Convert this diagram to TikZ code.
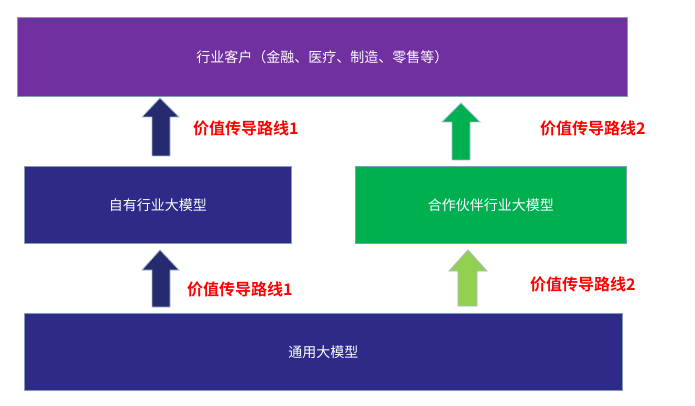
\documentclass[tikz,border=0pt]{standalone}
\usepackage{fontspec}
\setmainfont{Noto Sans CJK SC}
\newfontfamily\cjkb{Noto Sans CJK SC Bold}
\definecolor{purp}{HTML}{7030A0}
\definecolor{navy}{HTML}{2E2A87}
\definecolor{darknavy}{HTML}{262A6E}
\definecolor{grn}{HTML}{00B050}
\definecolor{lgrn}{HTML}{92D050}
\definecolor{edge}{HTML}{7F9FB5}
\begin{document}
\begin{tikzpicture}[x=1pt,y=-1pt,
  box/.style={draw=edge,line width=0.8pt,text=white,font=\fontsize{14}{16}\selectfont,anchor=north west,inner sep=0pt},
  lab/.style={text=red,font=\cjkb\fontsize{16}{18}\selectfont,anchor=west,inner sep=0pt},
  arr/.style={draw=edge!70,line width=0.8pt}]
\useasboundingbox (0,0) rectangle (695,406);
\node[box,fill=purp,minimum width=610pt,minimum height=79pt] (top) at (17,17) {行业客户（金融、医疗、制造、零售等）};
\node[box,fill=navy,minimum width=267pt,minimum height=77pt] (own) at (24,166) {自有行业大模型};
\node[box,fill=grn,minimum width=271pt,minimum height=77pt] (part) at (355,166) {合作伙伴行业大模型};
\node[box,fill=navy,minimum width=598pt,minimum height=77pt] (base) at (24,313) {通用大模型};
% arrows (block)
\fill[darknavy,arr] (152,156)--(152,117)--(142,117)--(160,98)--(179,117)--(170,117)--(170,156)--cycle;
\fill[grn,arr] (452,160)--(452,122)--(442,122)--(461,103)--(480,122)--(470,122)--(470,160)--cycle;
\fill[darknavy,arr] (152,307)--(152,270)--(142,270)--(160,250)--(179,270)--(170,270)--(170,307)--cycle;
\fill[lgrn,arr] (458,306)--(458,271)--(449,271)--(468,250)--(487,271)--(477,271)--(477,306)--cycle;
\node[lab] (l1) at (193,128) {价值传导路线1};
\node[lab] (l2) at (540,128) {价值传导路线2};
\node[lab] (l3) at (187,289) {价值传导路线1};
\node[lab] (l4) at (530,284) {价值传导路线2};
\end{tikzpicture}
\end{document}
